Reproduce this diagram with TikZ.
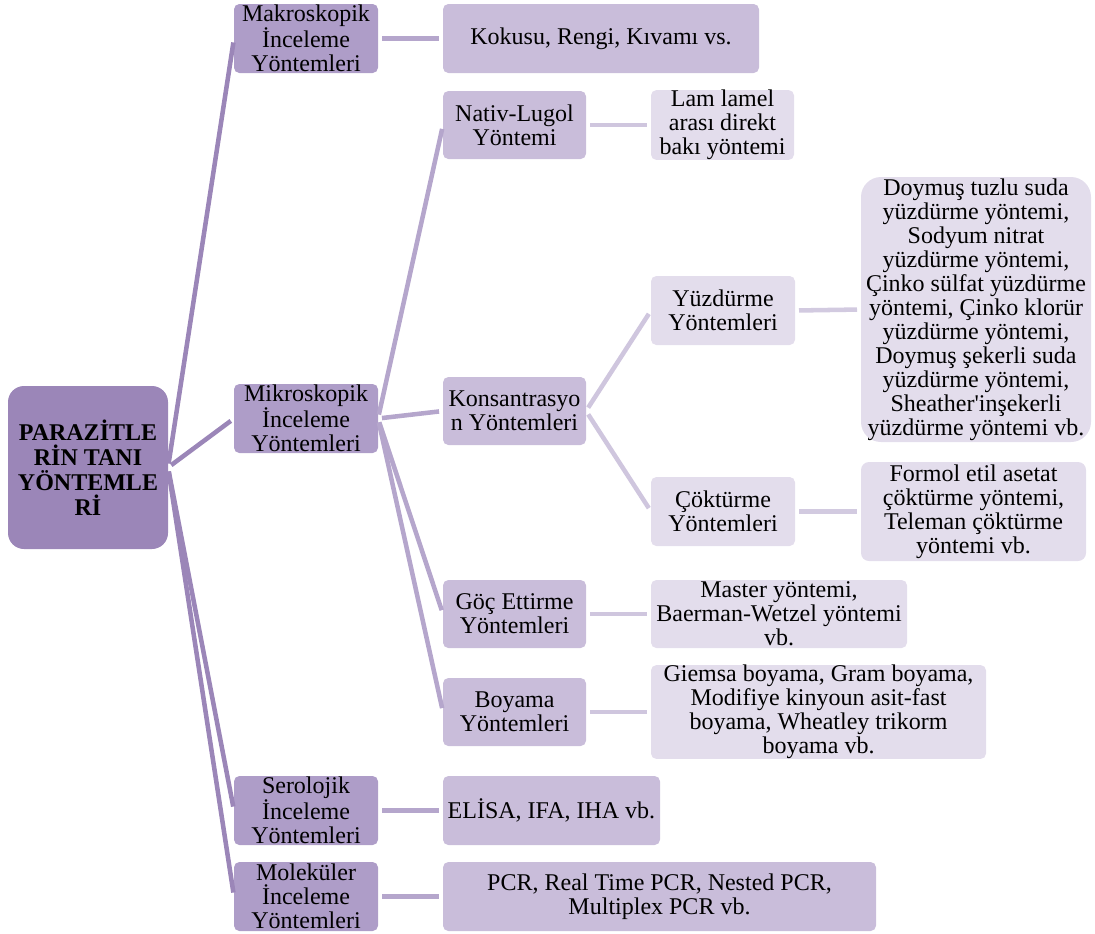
\documentclass[tikz,border=0pt]{standalone}
\usepackage{fontspec}
\setmainfont{Liberation Serif}
\definecolor{cRoot}{HTML}{9B86B8}
\definecolor{cOne}{HTML}{AE9DC8}
\definecolor{cTwo}{HTML}{C9BDDA}
\definecolor{cThree}{HTML}{E3DDEC}
\definecolor{lRoot}{HTML}{9B86B8}
\definecolor{lOne}{HTML}{B5A6CC}
\definecolor{lTwo}{HTML}{CFC6DE}
\definecolor{lThree}{HTML}{D2CAE0}
\newcommand\sq{{\XeTeXglyph\XeTeXcharglyph"27\relax}}
% \bx{style}{name}{x1}{y1}{x2}{y2}{text}  (pixel coordinates, y downward)
\newcommand\bx[7]{\node[#1, minimum width={(#5-#3)*0.75pt}, minimum height={(#6-#4)*0.75pt}] (#2) at ({(#3+#5)/2},{(#4+#6)/2}) {#7};}
\tikzset{
  bx/.style={inner sep=0pt, outer sep=0pt, rounded corners=4pt, align=center,
    font=\fontsize{18}{18}\selectfont, text=black},
  rootbox/.style={bx, fill=cRoot, rounded corners=12pt, font=\fontsize{18}{18.75}\selectfont\bfseries},
  onebox/.style={bx, fill=cOne},
  twobox/.style={bx, fill=cTwo},
  threebox/.style={bx, fill=cThree},
  conn/.style={line width=3.4pt, shorten <=3pt, shorten >=3pt},
  c0/.style={conn, draw=lRoot},
  c1/.style={conn, draw=lOne},
  c2/.style={conn, draw=lTwo},
  c3/.style={conn, draw=lThree},
}
\begin{document}
\begin{tikzpicture}[x=0.75pt, y=-0.75pt]
\useasboundingbox (0,0) rectangle (1095,933);
% root
\bx{rootbox}{root}{8}{386}{168}{549}{PARAZİTLE\\RİN TANI\\YÖNTEMLE\\Rİ}
% level 1
\bx{onebox}{makro}{234}{4}{378}{73}{Makroskopik\\İnceleme\\Yöntemleri}
\bx{onebox}{mikro}{234}{384}{378}{453}{Mikroskopik\\İnceleme\\Yöntemleri}
\bx{onebox}{sero}{234}{776}{378}{845}{Serolojik\\İnceleme\\Yöntemleri}
\bx{onebox}{mol}{234}{862}{378}{931}{Moleküler\\İnceleme\\Yöntemleri}
% level 2
\bx{twobox}{kokusu}{443}{4}{759}{73}{Kokusu, Rengi, Kıvamı vs.}
\bx{twobox}{nativ}{443}{91}{586}{159}{Nativ-Lugol\\Yöntemi}
\bx{twobox}{kons}{443}{377}{586}{445}{Konsantrasyo\\n Yöntemleri}
\bx{twobox}{goc}{443}{580}{586}{648}{Göç Ettirme\\Yöntemleri}
\bx{twobox}{boya}{443}{678}{586}{746}{Boyama\\Yöntemleri}
\bx{twobox}{elisa}{443}{776}{660}{845}{ELİSA, IFA, IHA vb.}
\bx{twobox}{pcr}{443}{862}{876}{931}{PCR, Real Time PCR, Nested PCR,\\Multiplex PCR vb.}
% level 3
\bx{threebox}{lam}{651}{91}{794}{159}{Lam lamel\\arası direkt\\bakı yöntemi}
\bx{threebox}{yuz}{651}{276}{795}{345}{Yüzdürme\\Yöntemleri}
\bx{threebox}{cok}{651}{477}{795}{546}{Çöktürme\\Yöntemleri}
\bx{threebox}{gocleaf}{651}{580}{907}{648}{Master yöntemi,\\Baerman-Wetzel yöntemi\\vb.}
\bx{threebox}{boyaleaf}{651}{666}{986}{758}{Giemsa boyama, Gram boyama,\\Modifiye kinyoun asit-fast\\boyama, Wheatley trikorm\\boyama vb.}
% level 4
\bx{threebox, rounded corners=15pt}{doymus}{861}{177}{1091}{442}{Doymuş tuzlu suda\\yüzdürme yöntemi,\\Sodyum nitrat\\yüzdürme yöntemi,\\Çinko sülfat yüzdürme\\yöntemi, Çinko klorür\\yüzdürme yöntemi,\\Doymuş şekerli suda\\yüzdürme yöntemi,\\Sheather\sq inşekerli\\yüzdürme yöntemi vb.}
\bx{threebox, rounded corners=6pt}{formol}{861}{462}{1086}{561}{Formol etil asetat\\çöktürme yöntemi,\\Teleman çöktürme\\yöntemi vb.}
% connectors
\draw[c0] (root.east) -- (makro.west);
\draw[c0] (root.east) -- (mikro.west);
\draw[c0] (root.east) -- (sero.west);
\draw[c0] (root.east) -- (mol.west);
\draw[c1] (makro.east) -- (kokusu.west);
\draw[c1] (mikro.east) -- (nativ.west);
\draw[c1] (mikro.east) -- (kons.west);
\draw[c1] (mikro.east) -- (goc.west);
\draw[c1] (mikro.east) -- (boya.west);
\draw[c1] (sero.east) -- (elisa.west);
\draw[c1] (mol.east) -- (pcr.west);
\draw[c2] (nativ.east) -- (lam.west);
\draw[c2] (kons.east) -- (yuz.west);
\draw[c2] (kons.east) -- (cok.west);
\draw[c2] (goc.east) -- (gocleaf.west);
\draw[c2] (boya.east) -- (boyaleaf.west);
\draw[c3] (yuz.east) -- (doymus.west);
\draw[c3] (cok.east) -- (formol.west);
\end{tikzpicture}
\end{document}
